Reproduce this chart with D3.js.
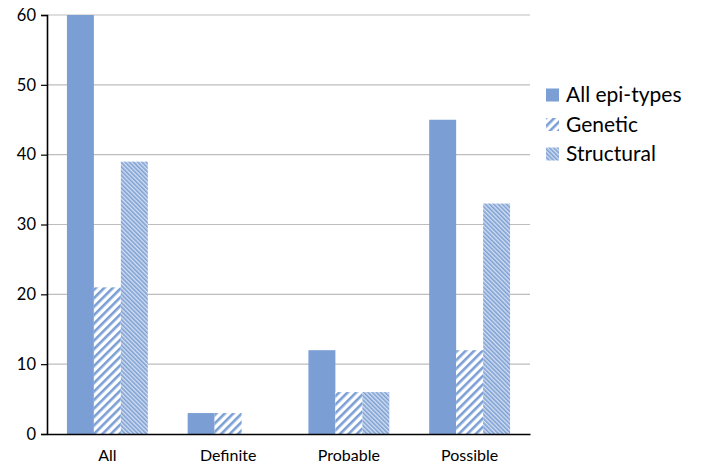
<!DOCTYPE html>
<html><head><meta charset="utf-8">
<script src="https://cdn.jsdelivr.net/npm/d3@7"></script>
<style>body{margin:0;background:#fff}</style>
</head><body>
<svg id="c" width="702" height="466"></svg>
<script>
const categories = ["All", "Definite", "Probable", "Possible"];
const seriesNames = ["All epi-types", "Genetic", "Structural"];
const allEpi = [60, 3, 12, 45];
const genetic = [21, 3, 6, 12];
const structural = [39, 0, 6, 33];
const yTicks = [0, 10, 20, 30, 40, 50, 60];

const series = [allEpi, genetic, structural];
const svg = d3.select("#c");
const font = "Lato, 'Open Sans', sans-serif";
const m = {l: 47, r: 530, t: 15, b: 434};

const defs = svg.append("defs");
const blue = "#7b9fd4";
const p1 = defs.append("pattern").attr("id","gen").attr("patternUnits","userSpaceOnUse")
  .attr("width",6).attr("height",6).attr("patternTransform","rotate(45)");
p1.append("rect").attr("width",6).attr("height",6).attr("fill","#fff");
p1.append("rect").attr("width",2.6).attr("height",6).attr("fill",blue);
const p2 = defs.append("pattern").attr("id","str").attr("patternUnits","userSpaceOnUse")
  .attr("width",3).attr("height",3).attr("patternTransform","rotate(-45)");
p2.append("rect").attr("width",3).attr("height",3).attr("fill","#d3e0f2");
p2.append("rect").attr("width",1.6).attr("height",3).attr("fill","#7e9fd3");
const fills = [blue, "url(#gen)", "url(#str)"];

const x = d3.scaleBand().domain(categories).range([m.l, m.r]).paddingInner(0.33).paddingOuter(0.165);
const xs = d3.scaleBand().domain(d3.range(3)).range([0, x.bandwidth()]);
const y = d3.scaleLinear().domain([0, 60]).range([m.b, m.t]);

// gridlines
svg.append("g").selectAll("line").data(yTicks.filter(d=>d>0)).join("line")
  .attr("x1", m.l).attr("x2", m.r).attr("y1", d=>y(d)).attr("y2", d=>y(d))
  .attr("stroke", "#bdbdbd").attr("stroke-width", 1.2);

// bars
const g = svg.append("g");
categories.forEach((c, i) => {
  series.forEach((s, j) => {
    g.append("rect").attr("x", x(c) + xs(j)).attr("width", xs.bandwidth())
      .attr("y", y(s[i])).attr("height", y(0) - y(s[i])).attr("fill", fills[j]);
  });
});

// y axis
const ya = svg.append("g").attr("transform", `translate(${m.l},0)`)
  .call(d3.axisLeft(y).tickValues(yTicks).tickSize(6).tickPadding(5));
ya.select(".domain").attr("stroke", "#000").attr("stroke-width", 1.6);
ya.selectAll(".tick line").attr("stroke", "#000").attr("stroke-width", 1.2);
ya.selectAll("text").attr("font-family", font).attr("font-size", 16.5).attr("fill", "#000");

// x axis
const xa = svg.append("g").attr("transform", `translate(0,${m.b})`)
  .call(d3.axisBottom(x).tickSize(0).tickPadding(16));
xa.select(".domain").attr("stroke", "#000").attr("stroke-width", 1.6);
xa.selectAll("text").attr("font-family", font).attr("font-size", 16).attr("fill", "#000");

// legend
const lg = svg.append("g").attr("transform", "translate(546,95)");
seriesNames.forEach((n, i) => {
  const row = lg.append("g").attr("transform", `translate(0,${i*29.5})`);
  row.append("rect").attr("x", 0).attr("y", -6.5).attr("width", 13).attr("height", 13).attr("fill", fills[i]);
  row.append("text").attr("x", 20).attr("y", 0).attr("dy", "0.35em")
    .attr("font-family", font).attr("font-size", 21).attr("fill", "#000").text(n);
});
</script>
</body></html>
